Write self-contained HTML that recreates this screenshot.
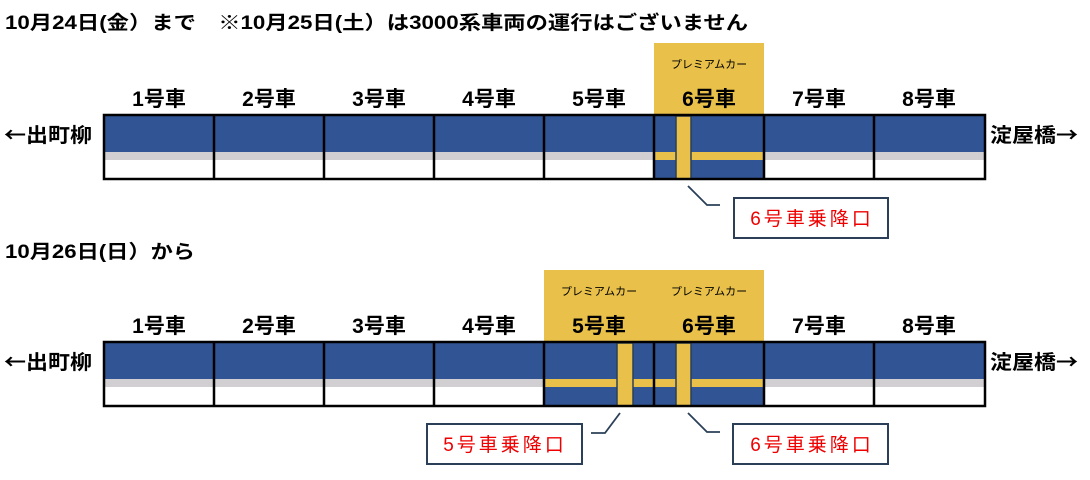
<!DOCTYPE html>
<html><head><meta charset="utf-8"><style>
body{margin:0;background:#fff;}
svg{display:block;font-family:"Liberation Sans","Noto Sans CJK JP",sans-serif;}
.h{font-weight:bold;font-size:19px;}
.s{font-weight:bold;font-size:20px;font-family:"Noto Sans CJK JP",sans-serif;}
.c{font-weight:bold;font-size:21px;text-anchor:middle;}
.p{font-size:11px;text-anchor:middle;}
.r{fill:#e00;font-size:19px;text-anchor:middle;letter-spacing:3px;}
</style></head><body>
<svg width="1090" height="480" viewBox="0 0 1090 480" xmlns="http://www.w3.org/2000/svg">
<text x="5" y="29" class="h" textLength="743" lengthAdjust="spacingAndGlyphs">10月24日(金）まで　※10月25日(土）は3000系車両の運行はございません</text>
<text x="5" y="258" class="h" textLength="190" lengthAdjust="spacingAndGlyphs">10月26日(日）から</text>

<!-- Train 1 -->
<rect x="654" y="43" width="110" height="72" fill="#e8c04a"/>
<text x="709" y="68" class="p">プレミアムカー</text>
<g class="c">
<text x="159" y="106">1号車</text><text x="269" y="106">2号車</text><text x="379" y="106">3号車</text><text x="489" y="106">4号車</text>
<text x="599" y="106">5号車</text><text x="709" y="106">6号車</text><text x="819" y="106">7号車</text><text x="929" y="106">8号車</text>
</g>
<rect x="104" y="115" width="881" height="37" fill="#315495"/>
<rect x="104" y="152" width="881" height="8" fill="#d1cfd1"/>
<rect x="654" y="115" width="110" height="64" fill="#315495"/>
<rect x="654" y="152" width="110" height="8" fill="#e8c04a"/>
<rect x="676" y="116" width="15" height="63" fill="#e8c04a" stroke="#2b4058" stroke-width="1.5"/>
<g stroke="#000" stroke-width="2.5" fill="none">
<rect x="104" y="115" width="881" height="64"/>
<path d="M214 115V179M324 115V179M434 115V179M544 115V179M654 115V179M764 115V179M874 115V179"/>
</g>
<text x="4" y="142" class="s" textLength="88" lengthAdjust="spacingAndGlyphs">←出町柳</text>
<text x="990" y="142" class="s" textLength="88" lengthAdjust="spacingAndGlyphs">淀屋橋→</text>
<path d="M688 186L707 205H720" stroke="#2b4058" stroke-width="1.8" fill="none"/>
<rect x="734" y="198" width="154" height="40" fill="#fff" stroke="#2b4058" stroke-width="2"/>
<text x="812" y="225" class="r">6号車乗降口</text>

<!-- Train 2 -->
<rect x="544" y="270" width="220" height="72" fill="#e8c04a"/>
<text x="599" y="295" class="p">プレミアムカー</text>
<text x="709" y="295" class="p">プレミアムカー</text>
<g class="c">
<text x="159" y="333">1号車</text><text x="269" y="333">2号車</text><text x="379" y="333">3号車</text><text x="489" y="333">4号車</text>
<text x="599" y="333">5号車</text><text x="709" y="333">6号車</text><text x="819" y="333">7号車</text><text x="929" y="333">8号車</text>
</g>
<rect x="104" y="342" width="881" height="37" fill="#315495"/>
<rect x="104" y="379" width="881" height="8" fill="#d1cfd1"/>
<rect x="544" y="342" width="220" height="64" fill="#315495"/>
<rect x="544" y="379" width="220" height="8" fill="#e8c04a"/>
<rect x="617" y="343" width="16" height="63" fill="#e8c04a" stroke="#2b4058" stroke-width="1.5"/>
<rect x="676" y="343" width="15" height="63" fill="#e8c04a" stroke="#2b4058" stroke-width="1.5"/>
<g stroke="#000" stroke-width="2.5" fill="none">
<rect x="104" y="342" width="881" height="64"/>
<path d="M214 342V406M324 342V406M434 342V406M544 342V406M654 342V406M764 342V406M874 342V406"/>
</g>
<text x="4" y="369" class="s" textLength="88" lengthAdjust="spacingAndGlyphs">←出町柳</text>
<text x="990" y="369" class="s" textLength="88" lengthAdjust="spacingAndGlyphs">淀屋橋→</text>
<path d="M620 413L605 433H591" stroke="#2b4058" stroke-width="1.8" fill="none"/>
<rect x="427" y="424" width="155" height="40" fill="#fff" stroke="#2b4058" stroke-width="2"/>
<text x="505" y="451" class="r">5号車乗降口</text>
<path d="M688 413L707 432H720" stroke="#2b4058" stroke-width="1.8" fill="none"/>
<rect x="733" y="424" width="155" height="40" fill="#fff" stroke="#2b4058" stroke-width="2"/>
<text x="812" y="451" class="r">6号車乗降口</text>
</svg>
</body></html>
